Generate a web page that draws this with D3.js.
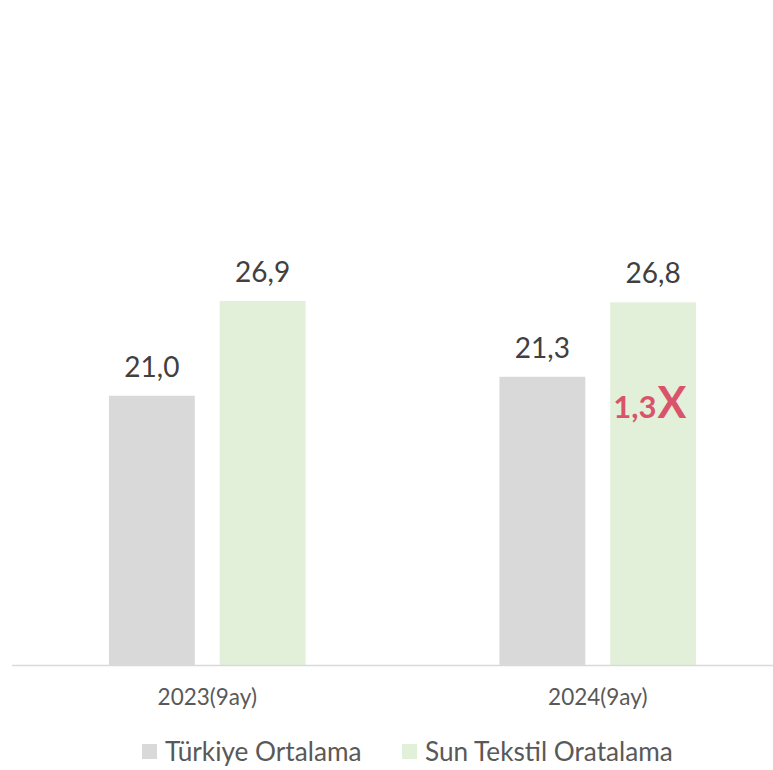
<!DOCTYPE html>
<html><head><meta charset="utf-8">
<script src="https://cdn.jsdelivr.net/npm/d3@7"></script>
<style>body{margin:0;background:#fff}svg{display:block}</style>
</head><body>
<svg id="c" width="773" height="770"></svg>
<script>
const categories = ["2023(9ay)", "2024(9ay)"];
const seriesNames = ["Türkiye Ortalama", "Sun Tekstil Oratalama"];
const turkiyeValues = [19.9, 21.3];
const sunValues = [26.9, 26.8];
const turkiyeLabels = ["21,0", "21,3"];
const sunLabels = ["26,9", "26,8"];
const annotationMain = "1,3";
const annotationSuffix = "X";

const colors = ["#d9d9d9", "#e2efd9"];
const font = "Lato, 'Open Sans', sans-serif";
const svg = d3.select("#c");

const x0 = d3.scaleBand().domain(categories).range([12, 793]).paddingInner(0).paddingOuter(0);
const x1 = d3.scaleBand().domain([0, 1]).range([0, x0.bandwidth()]).paddingInner(0.225).paddingOuter(0.875);
const y = d3.scaleLinear().domain([0, 26.9]).range([665, 301]);

const data = categories.map((c, i) => ({
  cat: c,
  vals: [
    {s: 0, v: turkiyeValues[i], label: turkiyeLabels[i]},
    {s: 1, v: sunValues[i], label: sunLabels[i]}
  ]
}));

const g = svg.selectAll("g.cat").data(data).join("g")
  .attr("transform", d => `translate(${x0(d.cat)},0)`);

g.selectAll("rect").data(d => d.vals).join("rect")
  .attr("x", d => x1(d.s))
  .attr("width", x1.bandwidth())
  .attr("y", d => y(d.v))
  .attr("height", d => y(0) - y(d.v))
  .attr("fill", d => colors[d.s]);

g.selectAll("text.lbl").data(d => d.vals).join("text")
  .attr("class", "lbl")
  .attr("x", d => x1(d.s) + x1.bandwidth() / 2)
  .attr("y", d => y(d.v) - 19)
  .attr("text-anchor", "middle")
  .attr("font-family", font)
  .attr("font-size", 28)
  .attr("fill", "#404040")
  .text(d => d.label);

// axis
const axis = d3.axisBottom(x0).tickSize(0).tickPadding(24);
const ax = svg.append("g").attr("transform", `translate(0,${y(0)})`).call(axis);
ax.select(".domain").remove();
svg.append("line").attr("x1", 12).attr("x2", 773).attr("y1", y(0) + 0.5).attr("y2", y(0) + 0.5)
  .attr("stroke", "#d9d9d9").attr("stroke-width", 1.5);
ax.selectAll(".tick text")
  .attr("font-family", font).attr("font-size", 22.5).attr("fill", "#595959")
  .attr("x", 0);
ax.selectAll(".tick").attr("transform", d => `translate(${x0(d) + x1(0) + (x1(1) + x1.bandwidth() - x1(0)) / 2},0)`);

// annotation
const ann = svg.append("text")
  .attr("x", x0(categories[1]) + x1(1) + 3)
  .attr("y", 418)
  .attr("font-family", font).attr("font-weight", "bold").attr("fill", "#d9546b");
ann.append("tspan").attr("font-size", 31).text(annotationMain);
ann.append("tspan").attr("font-size", 43).attr("dx", 1).text(annotationSuffix);

// legend
const legendX = [142, 402];
const lg = svg.selectAll("g.leg").data(seriesNames).join("g")
  .attr("transform", (d, i) => `translate(${legendX[i]},744)`);
lg.append("rect").attr("width", 15).attr("height", 15).attr("fill", (d, i) => colors[i]);
lg.append("text").attr("x", 23).attr("y", 16.5)
  .attr("font-family", font).attr("font-size", 26.2).attr("fill", "#595959")
  .text(d => d);
</script>
</body></html>
